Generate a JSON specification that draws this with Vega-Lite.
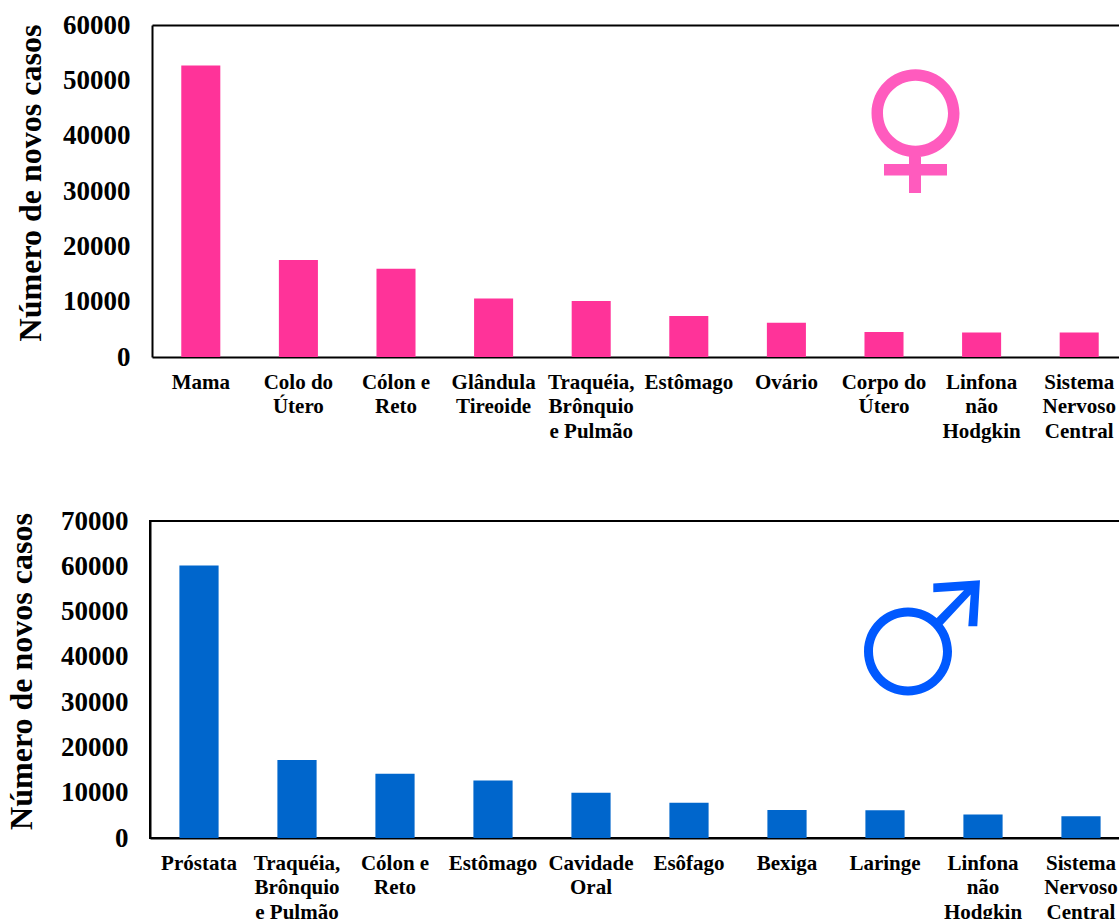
{
  "$schema": "https://vega.github.io/schema/vega-lite/v6.json",
  "background": "white",
  "padding": {"left": 4, "top": 11, "right": 0, "bottom": 0},
  "spacing": 164,
  "bounds": "flush",
  "config": {
    "font": "Liberation Serif",
    "view": {"stroke": null},
    "axis": {
      "labelFont": "Liberation Serif",
      "titleFont": "Liberation Serif",
      "labelFontWeight": "bold",
      "titleFontWeight": "bold",
      "labelColor": "black",
      "titleColor": "black",
      "domainColor": "black",
      "domainWidth": 2,
      "ticks": false,
      "grid": false
    }
  },
  "vconcat": [
    {
      "width": 978,
      "height": 332,
      "resolve": {"axis": {"x": "independent"}},
      "layer": [
        {
          "data": {"values": [
            {"tipo": "Mama", "casos": 52680},
            {"tipo": "Colo do|Útero", "casos": 17540},
            {"tipo": "Cólon e|Reto", "casos": 15960},
            {"tipo": "Glândula|Tireoide", "casos": 10590},
            {"tipo": "Traquéia,|Brônquio|e Pulmão", "casos": 10110},
            {"tipo": "Estômago", "casos": 7420},
            {"tipo": "Ovário", "casos": 6190},
            {"tipo": "Corpo do|Útero", "casos": 4520},
            {"tipo": "Linfona|não|Hodgkin", "casos": 4450},
            {"tipo": "Sistema|Nervoso|Central", "casos": 4450}
          ]},
          "mark": {"type": "bar", "color": "#FF3399"},
          "encoding": {
            "x": {
              "field": "tipo", "type": "nominal", "sort": null,
              "scale": {"range": [2, 978], "paddingInner": 0.6, "paddingOuter": 0.3},
              "axis": {
                "title": null, "labelAngle": 0, "labelFontSize": 21, "labelLineHeight": 24.5,
                "labelPadding": 14, "labelLimit": 300, "labelOverlap": false, "labelBound": false,
                "labelFlush": false,
                "labelExpr": "split(datum.label, '|')"
              }
            },
            "y": {
              "field": "casos", "type": "quantitative",
              "scale": {"domain": [0, 60000], "nice": false},
              "axis": {
                "title": "Número de novos casos", "titleFontSize": 32, "titlePadding": 15,
                "titleY": 157.5, "labelFontSize": 27, "labelPadding": 22, "offset": -2,
                "values": [0, 10000, 20000, 30000, 40000, 50000, 60000], "format": "d"
              }
            }
          }
        },
        {
          "data": {"values": [{"tipo": "Corpo do|Útero", "casos": 45000}]},
          "mark": {
            "type": "point", "filled": true, "opacity": 1, "color": "#FF5BBE", "size": 40000,
            "shape": "M -0.125 0.0525 A 0.44 0.44 0 1 1 0.755 0.0525 A 0.44 0.44 0 1 1 -0.125 0.0525 Z M -0.01 0.0525 A 0.325 0.325 0 1 0 0.64 0.0525 A 0.325 0.325 0 1 0 -0.01 0.0525 Z M 0.25 0.48 L 0.37 0.48 L 0.37 0.85 L 0.25 0.85 Z M 0 0.56 L 0.63 0.56 L 0.63 0.675 L 0 0.675 Z"
          },
          "encoding": {
            "x": {
              "field": "tipo", "type": "nominal", "sort": null,
              "axis": {"orient": "top", "title": null, "labels": false}
            },
            "y": {"field": "casos", "type": "quantitative"}
          }
        }
      ]
    },
    {
      "width": 980,
      "height": 317,
      "view": {"stroke": "black", "strokeWidth": 2},
      "layer": [
        {
          "data": {"values": [
            {"tipo": "Próstata", "casos": 60180},
            {"tipo": "Traquéia,|Brônquio|e Pulmão", "casos": 17210},
            {"tipo": "Cólon e|Reto", "casos": 14180},
            {"tipo": "Estômago", "casos": 12670},
            {"tipo": "Cavidade|Oral", "casos": 9990},
            {"tipo": "Esôfago", "casos": 7770},
            {"tipo": "Bexiga", "casos": 6210},
            {"tipo": "Laringe", "casos": 6110},
            {"tipo": "Linfona|não|Hodgkin", "casos": 5190},
            {"tipo": "Sistema|Nervoso|Central", "casos": 4820}
          ]},
          "mark": {"type": "bar", "color": "#0066CC"},
          "encoding": {
            "x": {
              "field": "tipo", "type": "nominal", "sort": null,
              "scale": {"paddingInner": 0.6, "paddingOuter": 0.3},
              "axis": {
                "title": null, "labelAngle": 0, "labelFontSize": 21, "labelLineHeight": 24.5,
                "labelPadding": 14, "labelLimit": 300, "labelOverlap": false, "labelBound": false,
                "labelFlush": false,
                "labelExpr": "split(datum.label, '|')"
              }
            },
            "y": {
              "field": "casos", "type": "quantitative",
              "scale": {"domain": [0, 70000], "nice": false},
              "axis": {
                "title": "Número de novos casos", "titleFontSize": 32, "titlePadding": 22,
                "titleY": 150, "labelFontSize": 27, "labelPadding": 22,
                "values": [0, 10000, 20000, 30000, 40000, 50000, 60000, 70000], "format": "d"
              }
            }
          }
        },
        {
          "data": {"values": [{"tipo": "Laringe", "casos": 50000}]},
          "mark": {
            "type": "point", "filled": true, "opacity": 1, "color": "#0059FF", "size": 40000,
            "shape": "M -0.21 0.4 A 0.44 0.44 0 1 1 0.67 0.4 A 0.44 0.44 0 1 1 -0.21 0.4 Z M -0.12 0.4 A 0.35 0.35 0 1 0 0.58 0.4 A 0.35 0.35 0 1 0 -0.12 0.4 Z M 0.49 0.093 L 0.79 -0.213 L 0.483 -0.193 L 0.483 -0.28 L 0.95 -0.313 L 0.923 0.147 L 0.833 0.147 L 0.857 -0.17 L 0.55 0.16 Z"
          },
          "encoding": {
            "x": {"field": "tipo", "type": "nominal", "sort": null},
            "y": {"field": "casos", "type": "quantitative"}
          }
        }
      ]
    }
  ]
}
